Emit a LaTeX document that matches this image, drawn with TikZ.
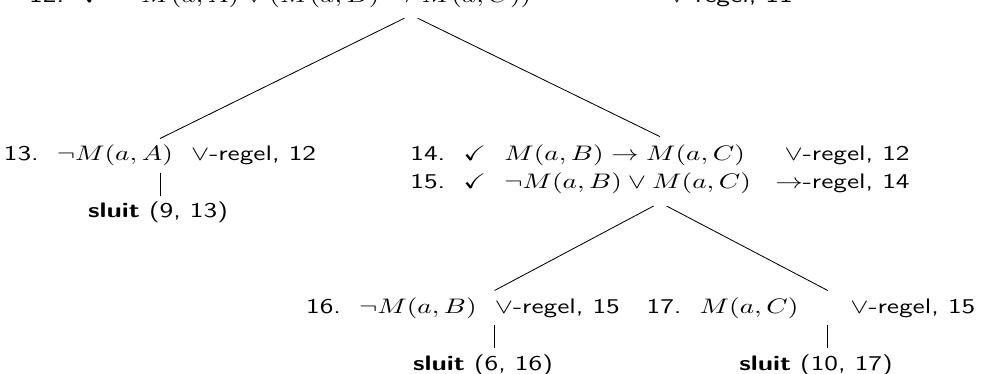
\documentclass[tikz,border=0pt]{standalone}
\usepackage{amssymb}
\usetikzlibrary{positioning}

\tikzset{
  entry/.style={font=\sffamily, inner xsep=0pt, inner ysep=3pt, xscale=1.3},
  branch/.style={shorten <=3.5pt},
}

\begin{document}
\begin{tikzpicture}[x=0.4762pt, y=-0.4762pt]
  \useasboundingbox (0,0) rectangle (983,374);
  % tableau
  \node[entry, anchor=base] (r12) at (411,3) {12.\ \ $\checkmark$\ \ $\neg M(a,A) \vee (M(a,B) \to M(a,C))$\hspace{50pt}$\vee$-regel, 11};
  \node[entry, anchor=base] (r13) at (160,161) {13.\ \ $\neg M(a,A)$\ \ $\vee$-regel, 12};
  \node[entry, anchor=base] (r14) at (660,161) {\begin{tabular}[t]{@{}l@{\ \ }l@{\ \ }l@{\hspace{9pt}}r@{}}
    14. & $\checkmark$ & $M(a,B) \to M(a,C)$ & $\vee$-regel, 12\\[1pt]
    15. & $\checkmark$ & $\neg M(a,B) \vee M(a,C)$ & $\to$-regel, 14
  \end{tabular}};
  \node[entry, anchor=base] (r16) at (463,313) {16.\ \ $\neg M(a,B)$\ \ $\vee$-regel, 15};
  \node[entry, anchor=base] (r17) at (811,313) {17.\ \ $M(a,C)$\hspace{19pt}$\vee$-regel, 15};
  % gesloten takken
  \node[entry, anchor=base] (c13) at (158,218) {\textbf{sluit} (9, 13)};
  \node[entry, anchor=base] (c16) at (483,370) {\textbf{sluit} (6, 16)};
  \node[entry, anchor=base] (c17) at (816,370) {\textbf{sluit} (10, 17)};

  \draw[branch] (r12.south) -- (r13.north);
  \draw[branch] (r12.south) -- (r14.north);
  \draw[branch] (r14.south) -- ([xshift=15pt]r16.north);
  \draw[branch] (r14.south) -- ([xshift=8pt]r17.north);
  \draw (r13.south) -- (r13.south |- c13.north);
  \draw ([xshift=15pt]r16.south) -- ([xshift=15pt]r16.south |- c16.north);
  \draw ([xshift=8pt]r17.south) -- ([xshift=8pt]r17.south |- c17.north);
\end{tikzpicture}
\end{document}
